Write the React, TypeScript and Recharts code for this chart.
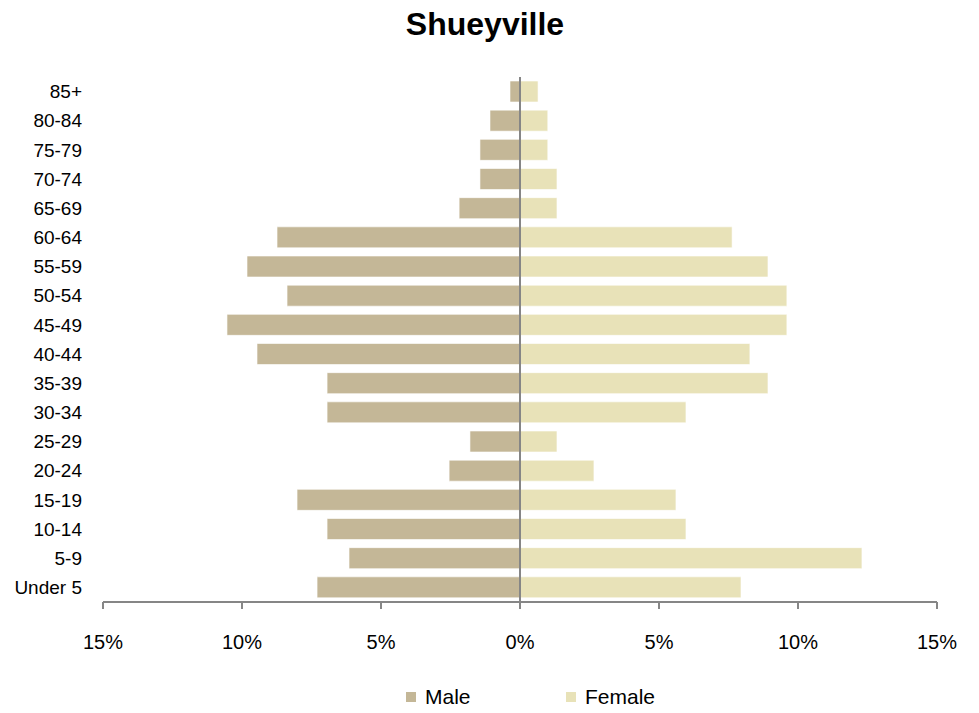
import { BarChart, Bar, XAxis, YAxis, ReferenceLine, Legend } from 'recharts';

const ageGroups = [
  'Under 5', '5-9', '10-14', '15-19', '20-24', '25-29', '30-34', '35-39', '40-44',
  '45-49', '50-54', '55-59', '60-64', '65-69', '70-74', '75-79', '80-84', '85+',
];

// percent of total population
const malePct = [7.3, 6.15, 6.94, 8.02, 2.55, 1.8, 6.94, 6.94, 9.46, 10.54, 8.38, 9.82, 8.74, 2.19, 1.44, 1.44, 1.08, 0.36];
const femalePct = [7.95, 12.3, 5.97, 5.61, 2.66, 1.33, 5.97, 8.92, 8.27, 9.6, 9.6, 8.92, 7.63, 1.33, 1.33, 1.0, 1.0, 0.65];

const xTicks = [-15, -10, -5, 0, 5, 10, 15];

const MALE_COLOR = '#C4B797';
const FEMALE_COLOR = '#E8E2B8';
const AXIS_COLOR = '#868686';
const FONT = '"Liberation Sans", Arial, sans-serif';

const data = ageGroups.map((age, i) => ({
  age,
  male: -malePct[i],
  female: femalePct[i],
}));

const PyramidLegend = () => (
  <div style={{ display: 'flex', paddingLeft: 406, fontFamily: FONT, fontSize: 21, color: '#000' }}>
    <div style={{ display: 'flex', alignItems: 'center', width: 160 }}>
      <span style={{ width: 10, height: 10, background: MALE_COLOR, display: 'inline-block', marginRight: 9 }} />
      <span>Male</span>
    </div>
    <div style={{ display: 'flex', alignItems: 'center' }}>
      <span style={{ width: 10, height: 10, background: FEMALE_COLOR, display: 'inline-block', marginRight: 9 }} />
      <span>Female</span>
    </div>
  </div>
);

export default function App() {
  return (
    <div style={{ position: 'absolute', left: 0, top: 0, width: 979, height: 713, background: '#fff' }}>
      <div
        style={{
          position: 'absolute',
          top: 6,
          left: 0,
          width: 970,
          textAlign: 'center',
          fontFamily: FONT,
          fontWeight: 'bold',
          fontSize: 32,
          color: '#000',
        }}
      >
        Shueyville
      </div>
      <BarChart
        width={979}
        height={713}
        data={data}
        layout="vertical"
        stackOffset="sign"
        barSize={21}
        margin={{ top: 77, right: 42, left: 0, bottom: 71 }}
      >
        <XAxis
          type="number"
          domain={[-15, 15]}
          ticks={xTicks}
          tickFormatter={(v: number) => `${Math.abs(v)}%`}
          axisLine={{ stroke: AXIS_COLOR, strokeWidth: 2 }}
          tickLine={{ stroke: AXIS_COLOR, strokeWidth: 2 }}
          tickSize={7}
          tickMargin={26}
          height={40}
          tick={{ fill: '#000', fontSize: 20, fontFamily: FONT }}
          interval={0}
        />
        <YAxis
          type="category"
          dataKey="age"
          reversed
          width={103}
          axisLine={false}
          tickLine={false}
          tickSize={0}
          tickMargin={21}
          interval={0}
          tick={{ fill: '#000', fontSize: 19, fontFamily: FONT }}
        />
        <Bar dataKey="male" name="Male" stackId="pop" fill={MALE_COLOR} stroke="#ffffff" strokeOpacity={0.6} strokeWidth={1} isAnimationActive={false} />
        <Bar dataKey="female" name="Female" stackId="pop" fill={FEMALE_COLOR} stroke="#ffffff" strokeOpacity={0.6} strokeWidth={1} isAnimationActive={false} />
        <ReferenceLine x={0} stroke={AXIS_COLOR} strokeWidth={2} />
        <Legend
          layout="horizontal"
          verticalAlign="middle"
          align="center"
          content={<PyramidLegend />}
          wrapperStyle={{ top: 685, left: 0, width: 979 }}
        />
      </BarChart>
    </div>
  );
}
